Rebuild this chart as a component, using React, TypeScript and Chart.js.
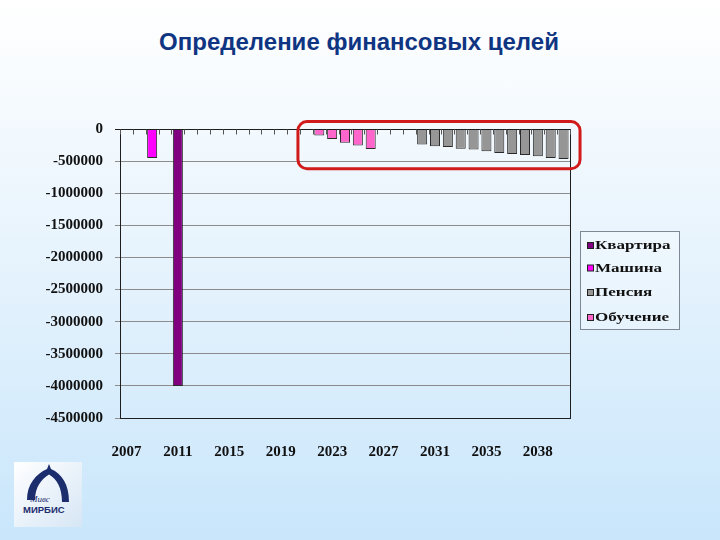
import React, { useEffect, useRef } from "react";
import { Chart, registerables } from "chart.js";

Chart.register(...registerables);

// Category labels (one per bar slot)
const categories = [
  "2007", "2008", "2009", "2010", "2011", "2012", "2013", "2014", "2015", "2016",
  "2017", "2018", "2019", "2020", "2021", "2022", "2023", "2024", "2025", "2026",
  "2027", "2028", "2029", "2030", "2031", "2032", "2033", "2034", "2035", "2036",
  "2037", "2037", "2038", "2039", "2040",
];

const N = null;
// Квартира
const apartment = [N, N, N, N, -4000000, N, N, N, N, N, N, N, N, N, N, N, N, N, N, N, N, N, N, N, N, N, N, N, N, N, N, N, N, N, N];
// Машина
const car = [N, N, -450000, N, N, N, N, N, N, N, N, N, N, N, N, N, N, N, N, N, N, N, N, N, N, N, N, N, N, N, N, N, N, N, N];
// Пенсия
const pension = [N, N, N, N, N, N, N, N, N, N, N, N, N, N, N, N, N, N, N, N, N, N, N,
  -243000, -268000, -280000, -308000, -320000, -346000, -372000, -388000, -404000, -425000, -450000, -466000];
// Обучение
const education = [N, N, N, N, N, N, N, N, N, N, N, N, N, N, N,
  -100000, -155000, -215000, -255000, -310000, N, N, N, N, N, N, N, N, N, N, N, N, N, N, N];

const seriesNames = ["Квартира", "Машина", "Пенсия", "Обучение"];
const seriesColors = ["#800080", "#ff00ff", "#969696", "#ff66cc"];

const yMin = -4500000;
const yMax = 0;
const yStep = 500000;

// Highlight frame (in data units: category index range, value range)
const highlightX = [13.34, 35.28];
const highlightY = [115000, -617000];

const decorPlugin = {
  id: "decor",
  afterDraw(chart: any) {
    const { ctx, chartArea: a, scales } = chart;
    const x = scales.x;
    const y = scales.y;
    ctx.save();
    // plot frame
    ctx.strokeStyle = "#1e1e1e";
    ctx.lineWidth = 1;
    ctx.strokeRect(Math.round(a.left) + 0.5, Math.round(a.top) + 0.5, Math.round(a.right - a.left), Math.round(a.bottom - a.top));
    // category tick marks on the zero line
    const y0 = Math.round(y.getPixelForValue(0)) + 0.5;
    ctx.strokeStyle = "#555";
    ctx.beginPath();
    for (let i = 0; i <= categories.length; i++) {
      const px = Math.round(x.getPixelForValue(i - 0.5)) + 0.5;
      ctx.moveTo(px, y0);
      ctx.lineTo(px, y0 + 5);
    }
    ctx.stroke();

    // red highlight rounded rectangle
    const rx1 = x.getPixelForValue(highlightX[0]);
    const rx2 = x.getPixelForValue(highlightX[1]);
    const ry1 = y.getPixelForValue(highlightY[0]);
    const ry2 = y.getPixelForValue(highlightY[1]);
    ctx.strokeStyle = "#d11a1a";
    ctx.lineWidth = 3;
    ctx.beginPath();
    ctx.roundRect(rx1, ry1, rx2 - rx1, ry2 - ry1, 9);
    ctx.stroke();

    // legend
    const lx = a.right + 10;
    const ly = 231;
    const lw = 99;
    const lh = 98;
    ctx.fillStyle = "rgba(255,255,255,0.25)";
    ctx.fillRect(lx, ly, lw, lh);
    ctx.strokeStyle = "#7d8894";
    ctx.lineWidth = 1;
    ctx.strokeRect(lx + 0.5, ly + 0.5, lw, lh);
    const rows = [245.5, 268, 292.5, 317.5];
    chart.data.datasets.forEach((ds: any, i: number) => {
      const cy = rows[i];
      ctx.fillStyle = ds.backgroundColor;
      ctx.fillRect(lx + 7.5, cy - 3, 6, 6);
      ctx.strokeStyle = "#222";
      ctx.lineWidth = 1;
      ctx.strokeRect(lx + 7.5, cy - 3, 6, 6);
      ctx.save();
      ctx.translate(lx + 15, cy);
      ctx.scale(1.42, 1);
      ctx.fillStyle = "#111";
      ctx.font = "bold 12px 'Liberation Serif', 'Times New Roman', serif";
      ctx.textBaseline = "middle";
      ctx.textAlign = "left";
      ctx.fillText(ds.label, 0, 0.5);
      ctx.restore();
    });
    ctx.restore();
  },
};

function ChartCanvas() {
  const ref = useRef<HTMLCanvasElement>(null);
  useEffect(() => {
    if (!ref.current) return;
    const datasets = [apartment, car, pension, education].map((d, i) => ({
      label: seriesNames[i],
      data: d,
      backgroundColor: seriesColors[i],
      borderColor: "#2a2a2a",
      borderWidth: 1,
      barPercentage: 0.78,
      categoryPercentage: 1,
    }));
    const chart = new Chart(ref.current, {
      type: "bar",
      data: { labels: categories, datasets },
      options: {
        animation: false,
        responsive: false,
        maintainAspectRatio: false,
        layout: { padding: { left: 0, right: 150, top: 129, bottom: 82 } },
        plugins: { legend: { display: false }, tooltip: { enabled: false } },
        scales: {
          x: {
            stacked: true,
            offset: true,
            grid: { display: false },
            border: { display: false },
            ticks: {
              autoSkip: false,
              maxRotation: 0,
              padding: 17,
              color: "#111",
              font: { family: "'Liberation Serif', 'Times New Roman', serif", size: 15, weight: "bold" },
              callback: (_v: any, i: number) => (i % 4 === 0 ? categories[i] : ""),
            },
            afterFit: (s: any) => { s.height = 40; },
          },
          y: {
            stacked: true,
            min: yMin,
            max: yMax,
            grid: {
              color: (c: any) => (c.tick && c.tick.value === 0 ? "#1e1e1e" : "#8c8c8c"),
              tickLength: 5,
              drawTicks: true,
            },
            border: { display: false },
            ticks: {
              stepSize: yStep,
              padding: 12,
              color: "#111",
              font: { family: "'Liberation Serif', 'Times New Roman', serif", size: 15, weight: "bold" },
              callback: (v: any) => String(v),
            },
            afterFit: (s: any) => { s.width = 120; },
          },
        },
      },
      plugins: [decorPlugin],
    });
    return () => chart.destroy();
  }, []);
  return <canvas ref={ref} width={720} height={540} style={{ position: "absolute", left: 0, top: 0, width: 720, height: 540 }} />;
}

function Logo() {
  return (
    <svg width={68} height={65} viewBox="0 0 68 65" style={{ position: "absolute", left: 14, top: 462 }}>
      <defs>
        <linearGradient id="lg" x1="0" y1="0" x2="1" y2="1">
          <stop offset="0" stopColor="#ffffff" />
          <stop offset="1" stopColor="#d6e6f5" />
        </linearGradient>
      </defs>
      <rect x={0} y={0} width={68} height={65} fill="url(#lg)" />
      <path
        d="M13 38 C13 22 22 12 33 7 L35 2 L37 7 C48 12 55 22 55 40 L48 40 C48 26 43 17 35 12.5 C27 17 21 26 21 38 Z"
        fill="#1c2d6e"
      />
      <text x={16} y={40} fontFamily="'Liberation Serif', serif" fontStyle="italic" fontSize={9} fill="#1c2d6e">Мивс</text>
      <text x={9} y={51} fontFamily="'Liberation Sans', Arial, sans-serif" fontWeight="bold" fontSize={9.5} fill="#1c2d6e">МИРБИС</text>
    </svg>
  );
}

export default function App() {
  return (
    <div
      style={{
        position: "fixed",
        left: 0,
        top: 0,
        width: 720,
        height: 540,
        overflow: "hidden",
        background: "linear-gradient(to bottom, #ffffff 0%, #e8f4fd 45%, #c9e6fb 100%)",
      }}
    >
      <div
        style={{
          position: "absolute",
          left: 0,
          top: 28,
          width: 718,
          textAlign: "center",
          fontFamily: "'Liberation Sans', Arial, sans-serif",
          fontWeight: "bold",
          fontSize: 24,
          color: "#0f3582",
          lineHeight: "28px",
        }}
      >
        Определение финансовых целей
      </div>
      <ChartCanvas />
      <Logo />
    </div>
  );
}
